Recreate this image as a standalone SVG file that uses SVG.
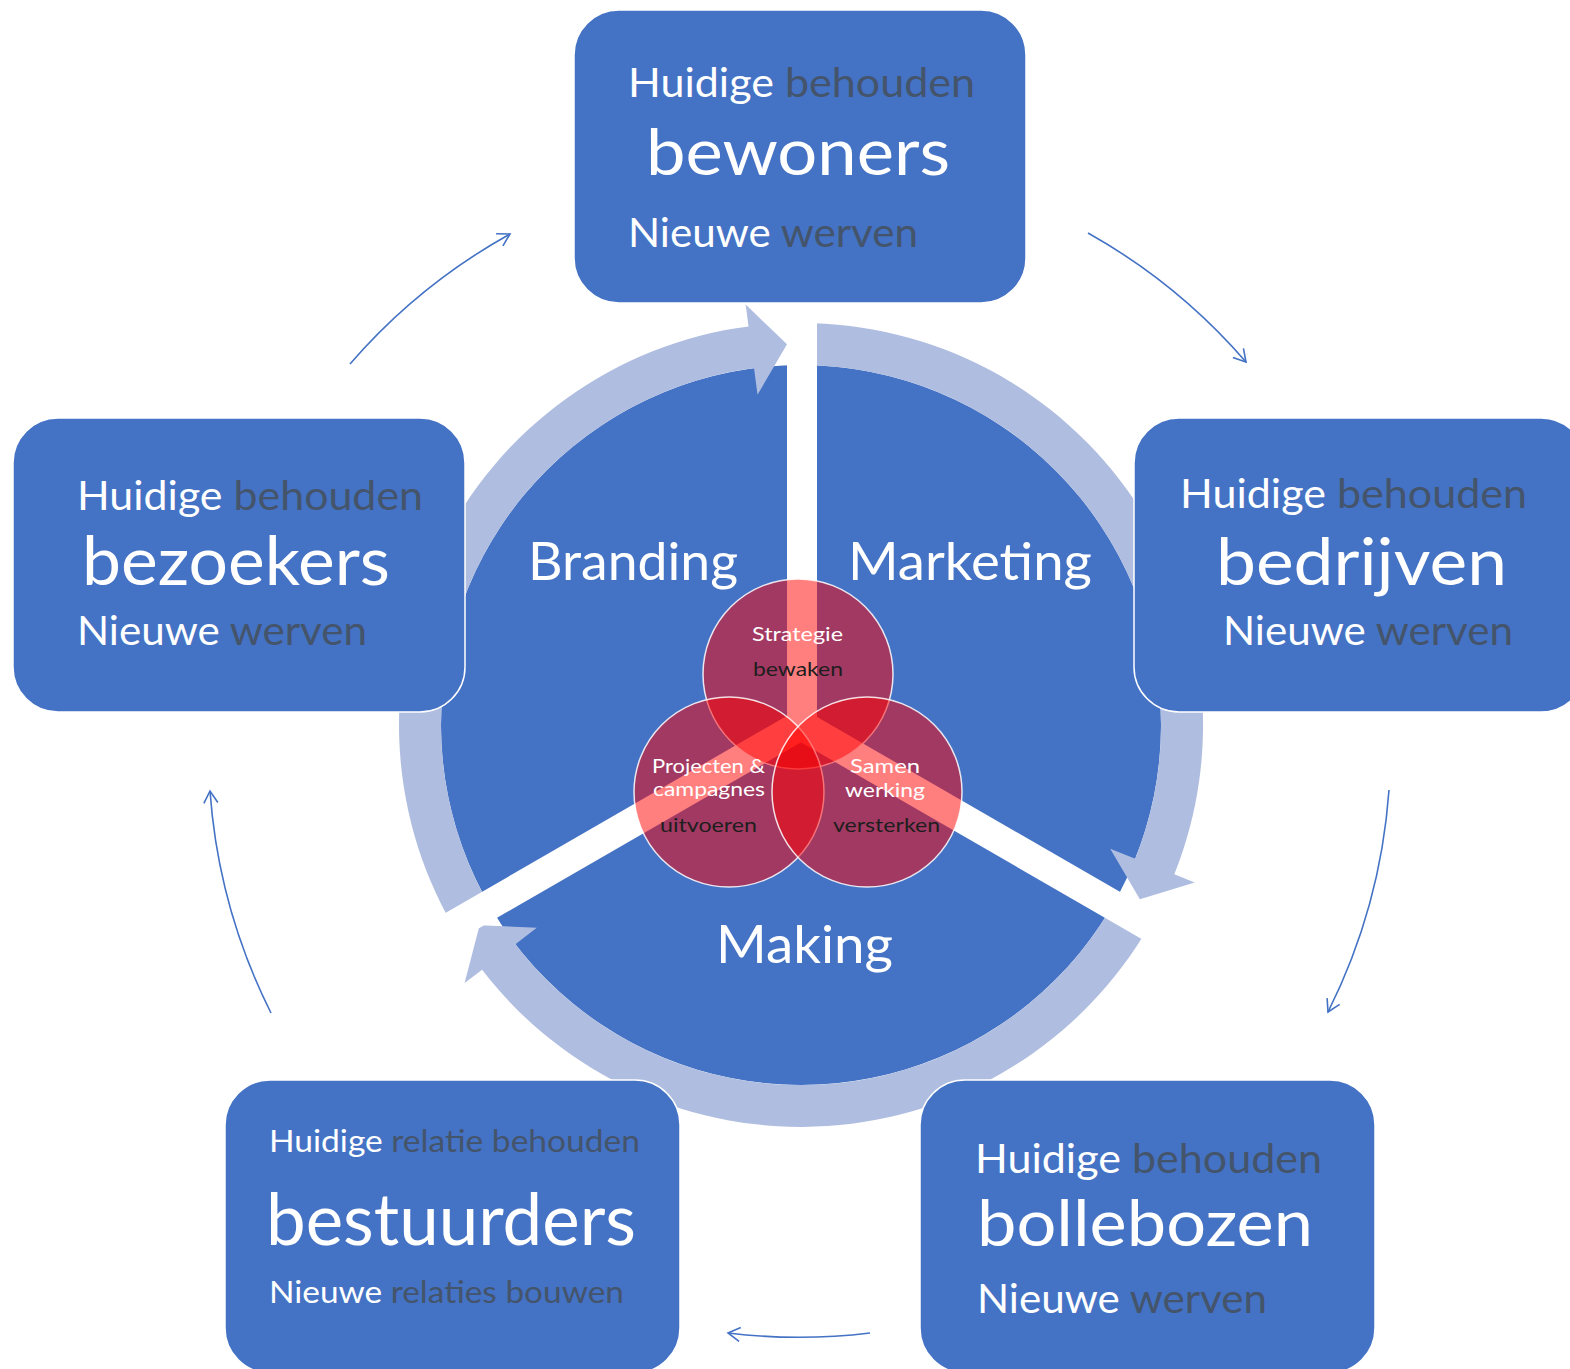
<svg xmlns="http://www.w3.org/2000/svg" width="1570" height="1369" viewBox="0 0 1570 1369">
<defs>
<style>
text{font-family:Lato,"Open Sans","Liberation Sans",sans-serif}
.box{fill:#4472C4;stroke:#FFFFFF;stroke-width:1.5}
.w{fill:#FFFFFF}
.d{fill:#44546A}
.k{fill:#1E1E1E}
.sm{font-size:40px}
.xs{font-size:31px}
.lab{font-size:52px;fill:#FFFFFF}
.vt{font-size:20px}
.band{fill:#AFBDE0}
.spoke{fill:#FFFFFF}
.venn{fill:#FF0000;fill-opacity:0.5;stroke:#FFFFFF;stroke-opacity:0.85;stroke-width:1.5}
.con{fill:none;stroke:#4472C4;stroke-width:1.6}
</style>
<marker id="ah" viewBox="0 0 16 16" refX="13" refY="8" markerWidth="16" markerHeight="16" markerUnits="userSpaceOnUse" orient="auto">
<path d="M1,1 L13,8 L1,15" fill="none" stroke="#4472C4" stroke-width="1.6"/>
</marker>
</defs>
<rect width="1570" height="1369" fill="#FFFFFF"/>

<g id="cycle">
<circle cx="801" cy="725" r="360" fill="#4472C4"/>
<path class="band" d="M452.9 926 A402 402 0 0 1 748.5 326.4 L745.7 304.6 L787 344.3 L757.5 394.8 L754 368.1 A360 360 0 0 0 489.2 905 Z"/>
<path class="band" d="M801 323 A402 402 0 0 1 1174.3 874.3 L1194.7 882.5 L1139.9 899.2 L1110.2 848.7 L1135.3 858.7 A360 360 0 0 0 801 365 Z"/>
<path class="band" d="M1149.1 926 A402 402 0 0 1 482.1 969.7 L464.6 983.1 L479.6 925.3 L536.8 927.7 L515.4 944.2 A360 360 0 0 0 1112.8 905 Z"/>
<rect class="spoke" x="787" y="300" width="30" height="426"/>
<rect class="spoke" x="0" y="-15" width="430" height="30" transform="translate(801 725) rotate(150)"/>
<rect class="spoke" x="0" y="-15" width="430" height="30" transform="translate(801 725) rotate(30)"/>
<text class="lab" x="528" y="580" textLength="210" lengthAdjust="spacingAndGlyphs">Branding</text>
<text class="lab" x="848" y="580" textLength="244" lengthAdjust="spacingAndGlyphs">Marketing</text>
<text class="lab" x="716" y="963" textLength="177" lengthAdjust="spacingAndGlyphs">Making</text>
</g>

<g id="venn-strategie">
<circle class="venn" cx="798" cy="674" r="95"/>
<text class="vt w" x="752" y="641" textLength="91" lengthAdjust="spacingAndGlyphs">Strategie</text>
<text class="vt k" x="753" y="676" textLength="90" lengthAdjust="spacingAndGlyphs">bewaken</text>
</g>
<g id="venn-projecten">
<circle class="venn" cx="729" cy="792" r="95"/>
</g>
<g id="venn-samenwerking">
<circle class="venn" cx="867" cy="792" r="95"/>
</g>
<g id="venn-labels">
<text class="vt w" x="652" y="773" textLength="113" lengthAdjust="spacingAndGlyphs">Projecten &amp;</text>
<text class="vt w" x="653" y="796" textLength="112" lengthAdjust="spacingAndGlyphs">campagnes</text>
<text class="vt k" x="660" y="832" textLength="97" lengthAdjust="spacingAndGlyphs">uitvoeren</text>
<text class="vt w" x="850" y="773" textLength="70" lengthAdjust="spacingAndGlyphs">Samen</text>
<text class="vt w" x="845" y="797" textLength="80" lengthAdjust="spacingAndGlyphs">werking</text>
<text class="vt k" x="833" y="832" textLength="107" lengthAdjust="spacingAndGlyphs">versterken</text>
</g>

<g id="node-bewoners">
<rect class="box" x="574" y="10" width="452" height="293" rx="45"/>
<text class="sm" x="628" y="97" textLength="347" lengthAdjust="spacingAndGlyphs"><tspan class="w">Huidige</tspan> <tspan class="d">behouden</tspan></text>
<text class="w" x="646" y="175" font-size="64" textLength="304" lengthAdjust="spacingAndGlyphs">bewoners</text>
<text class="sm" x="628" y="247" textLength="290" lengthAdjust="spacingAndGlyphs"><tspan class="w">Nieuwe</tspan> <tspan class="d">werven</tspan></text>
</g>

<g id="node-bezoekers">
<rect class="box" x="13" y="418" width="452" height="294" rx="45"/>
<text class="sm" x="77" y="510" textLength="346" lengthAdjust="spacingAndGlyphs"><tspan class="w">Huidige</tspan> <tspan class="d">behouden</tspan></text>
<text class="w" x="82" y="585" font-size="68" textLength="308" lengthAdjust="spacingAndGlyphs">bezoekers</text>
<text class="sm" x="77" y="645" textLength="290" lengthAdjust="spacingAndGlyphs"><tspan class="w">Nieuwe</tspan> <tspan class="d">werven</tspan></text>
</g>

<g id="node-bedrijven">
<rect class="box" x="1134" y="418" width="452" height="294" rx="45"/>
<text class="sm" x="1180" y="508" textLength="347" lengthAdjust="spacingAndGlyphs"><tspan class="w">Huidige</tspan> <tspan class="d">behouden</tspan></text>
<text class="w" x="1216" y="585" font-size="66" textLength="291" lengthAdjust="spacingAndGlyphs">bedrijven</text>
<text class="sm" x="1223" y="645" textLength="290" lengthAdjust="spacingAndGlyphs"><tspan class="w">Nieuwe</tspan> <tspan class="d">werven</tspan></text>
</g>

<g id="node-bestuurders">
<rect class="box" x="225" y="1080" width="455" height="293" rx="45"/>
<text class="xs" x="269" y="1152" textLength="371" lengthAdjust="spacingAndGlyphs"><tspan class="w">Huidige</tspan> <tspan class="d">relatie behouden</tspan></text>
<text class="w" x="266" y="1245" font-size="72" textLength="370" lengthAdjust="spacingAndGlyphs">bestuurders</text>
<text class="xs" x="269" y="1303" textLength="355" lengthAdjust="spacingAndGlyphs"><tspan class="w">Nieuwe</tspan> <tspan class="d">relaties bouwen</tspan></text>
</g>

<g id="node-bollebozen">
<rect class="box" x="920" y="1080" width="455" height="293" rx="45"/>
<text class="sm" x="975" y="1173" textLength="347" lengthAdjust="spacingAndGlyphs"><tspan class="w">Huidige</tspan> <tspan class="d">behouden</tspan></text>
<text class="w" x="977" y="1246" font-size="64" textLength="336" lengthAdjust="spacingAndGlyphs">bollebozen</text>
<text class="sm" x="977" y="1313" textLength="290" lengthAdjust="spacingAndGlyphs"><tspan class="w">Nieuwe</tspan> <tspan class="d">werven</tspan></text>
</g>

<g id="connectors">
<path class="con" marker-end="url(#ah)" d="M350 364 A590 590 0 0 1 510 234"/>
<path class="con" marker-end="url(#ah)" d="M1088 233 A590 590 0 0 1 1246 362"/>
<path class="con" marker-end="url(#ah)" d="M1389 790 A590 590 0 0 1 1328 1012"/>
<path class="con" marker-end="url(#ah)" d="M870 1333 A590 590 0 0 1 728 1333"/>
<path class="con" marker-end="url(#ah)" d="M271 1013 A590 590 0 0 1 210 791"/>
</g>
</svg>
